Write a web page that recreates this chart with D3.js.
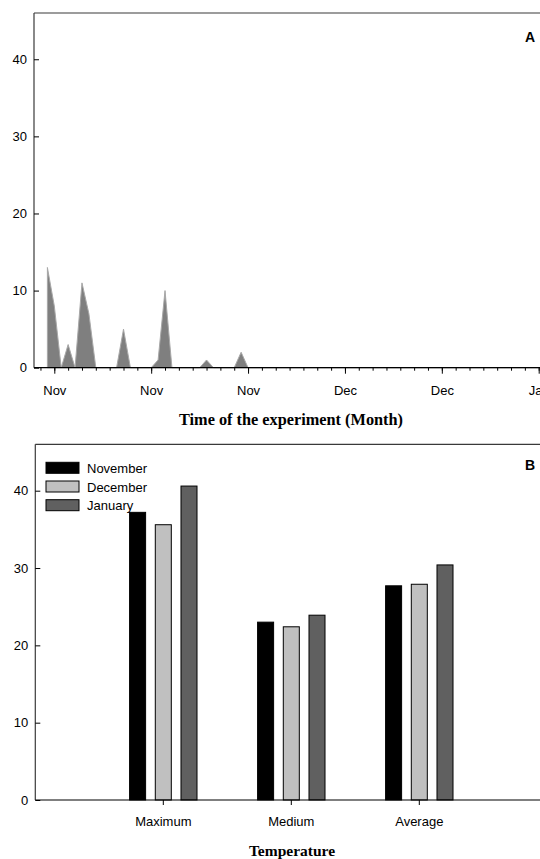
<!DOCTYPE html>
<html>
<head>
<meta charset="utf-8">
<script src="https://cdn.jsdelivr.net/npm/d3@7"></script>
<style>
  html, body { margin: 0; padding: 0; background: #fff; }
  svg { display: block; }
  text { font-family: "Liberation Sans", Arial, sans-serif; fill: #000; }
  .serif { font-family: "Liberation Serif", "Times New Roman", serif; font-weight: bold; }
</style>
</head>
<body>
<svg id="chart" width="540" height="859"></svg>
<script>
// ---------- Panel A data (daily values, day 0 = first "Nov" tick) ----------
const daysA = [-1,0,1,2,3,4,5,6,7,8,9,10,11,12,13,14,15,16,17,18,19,20,21,22,23,24,25,26,27,28,29,30,31,32,33,34,35,36,37,38,39,40,41,42,43,44,45,46,47,48,49,50,51,52,53,54,55,56,57,58,59,60,61,62,63,64,65,66,67,68,69,70];
const valuesA = [13,8,0,3,0,11,7,0,0,0,0,5,0,0,0,0,1,10,0,0,0,0,0,1,0,0,0,0,2,0,0,0,0,0,0,0,0,0,0,0,0,0,0,0,0,0,0,0,0,0,0,0,0,0,0,0,0,0,0,0,0,0,0,0,0,0,0,0,0,0,0,0];
const majorTickDaysA = [0,14,28,42,56,70];
const majorTickLabelsA = ["Nov","Nov","Nov","Dec","Dec","Jan"];
const minorTickDaysA = [-2,0,2,4,6,8,10,12,14,16,18,20,22,24,26,28,30,32,34,36,38,40,42,44,46,48,50,52,54,56,58,60,62,64,66,68,70,72];
const yTicks = [0,10,20,30,40];

// ---------- Panel B data ----------
const categoriesB = ["Maximum","Medium","Average"];
const seriesB = ["November","December","January"];
const novemberB = [37.2, 23.0, 27.7];
const decemberB = [35.6, 22.4, 27.9];
const januaryB  = [40.6, 23.9, 30.4];
const colorsB = ["#000000","#c0c0c0","#606060"];

const svg = d3.select("#chart");

// ================= Panel A =================
const A = { left: 34, top: 13, bottom: 367.7, right: 560 };
const xA = d3.scaleLinear().domain([0, 70]).range([54.3, 538.7]);
const yA = d3.scaleLinear().domain([0, 46]).range([A.bottom, A.top]);
const dataA = daysA.map((d, i) => ({ d, v: valuesA[i] }));

const gA = svg.append("g");
gA.append("path")
  .datum(dataA)
  .attr("fill", "#7f7f7f")
  .attr("stroke", "#a8a8a8")
  .attr("stroke-width", 1)
  .attr("d", d3.area().x(p => xA(p.d)).y0(yA(0)).y1(p => yA(p.v)));

// frame (top + left)
gA.append("line").attr("x1", A.left).attr("x2", A.right).attr("y1", A.top).attr("y2", A.top)
  .attr("stroke", "#3a3a3a").attr("stroke-width", 1.2);

// y axis
const yAxisA = gA.append("g").attr("transform", `translate(${A.left},0)`)
  .call(d3.axisLeft(yA).tickValues(yTicks).tickSizeInner(-5).tickSizeOuter(0).tickPadding(7));
yAxisA.select(".domain").attr("stroke", "#3a3a3a").attr("stroke-width", 1.2)
  .attr("d", `M0,${A.top}V${A.bottom}`);
yAxisA.selectAll("text").style("font-size", "13px").attr("font-family", null);

// x axis: minor ticks
const xAxisMinor = gA.append("g").attr("transform", `translate(0,${A.bottom})`)
  .call(d3.axisBottom(xA).tickValues(minorTickDaysA).tickSizeInner(3).tickSizeOuter(0).tickFormat(""));
xAxisMinor.select(".domain").attr("d", `M${A.left},0H${A.right}`).attr("stroke", "#000").attr("stroke-width", 1.2);
// major ticks
const xAxisMajor = gA.append("g").attr("transform", `translate(0,${A.bottom})`)
  .call(d3.axisBottom(xA).tickValues(majorTickDaysA).tickSizeInner(6).tickSizeOuter(0).tickPadding(12)
    .tickFormat((d, i) => majorTickLabelsA[i]));
xAxisMajor.select(".domain").remove();
xAxisMajor.selectAll("text").style("font-size", "13px").attr("font-family", null);

gA.append("text").attr("x", 530).attr("y", 41.5).attr("text-anchor", "middle")
  .style("font-size", "14px").style("font-weight", "bold").text("A");

gA.append("text").attr("class", "serif").attr("x", 291).attr("y", 425).attr("text-anchor", "middle")
  .style("font-size", "16.3px").text("Time of the experiment (Month)");

// ================= Panel B =================
const B = { left: 35.3, top: 444.3, bottom: 800, right: 560 };
const xB = d3.scaleBand().domain(categoriesB).range([99.3, 483.3]).padding(0);
const xInner = d3.scaleBand().domain(seriesB).range([-38.55, 38.55]).paddingInner(0.377).paddingOuter(0.1885);
const yB = d3.scaleLinear().domain([0, 46]).range([B.bottom, B.top]);
const valuesB = [novemberB, decemberB, januaryB];

const gB = svg.append("g");
gB.append("line").attr("x1", B.left).attr("x2", B.right).attr("y1", B.top).attr("y2", B.top)
  .attr("stroke", "#3a3a3a").attr("stroke-width", 1.2);

const barData = [];
categoriesB.forEach((c, ci) => {
  seriesB.forEach((s, si) => barData.push({ c, s, si, v: valuesB[si][ci] }));
});
gB.selectAll("rect.bar").data(barData).enter().append("rect")
  .attr("class", "bar")
  .attr("x", d => xB(d.c) + xB.bandwidth() / 2 + xInner(d.s))
  .attr("width", xInner.bandwidth())
  .attr("y", d => yB(d.v))
  .attr("height", d => yB(0) - yB(d.v))
  .attr("fill", d => colorsB[d.si])
  .attr("stroke", "#000").attr("stroke-width", 1);

const yAxisB = gB.append("g").attr("transform", `translate(${B.left},0)`)
  .call(d3.axisLeft(yB).tickValues(yTicks).tickSizeInner(-5).tickSizeOuter(0).tickPadding(7));
yAxisB.select(".domain").attr("stroke", "#3a3a3a").attr("stroke-width", 1.2)
  .attr("d", `M0,${B.top}V${B.bottom}`);
yAxisB.selectAll("text").style("font-size", "13px").attr("font-family", null);

const xAxisB = gB.append("g").attr("transform", `translate(0,${B.bottom})`)
  .call(d3.axisBottom(xB).tickSizeInner(5).tickSizeOuter(0).tickPadding(12));
xAxisB.select(".domain").attr("d", `M${B.left},0H${B.right}`).attr("stroke", "#000").attr("stroke-width", 1.2);
xAxisB.selectAll("text").style("font-size", "13px").attr("font-family", null);

// legend
const leg = gB.append("g");
seriesB.forEach((s, i) => {
  const y0 = 462.3 + i * 18.7;
  leg.append("rect").attr("x", 46).attr("y", y0).attr("width", 33).attr("height", 11)
    .attr("fill", colorsB[i]).attr("stroke", "#000").attr("stroke-width", 1);
  leg.append("text").attr("x", 87).attr("y", y0 + 10.5).style("font-size", "13px").text(s);
});

gB.append("text").attr("x", 530).attr("y", 469.5).attr("text-anchor", "middle")
  .style("font-size", "14px").style("font-weight", "bold").text("B");

gB.append("text").attr("class", "serif").attr("x", 292).attr("y", 856).attr("text-anchor", "middle")
  .style("font-size", "15.5px").text("Temperature");
</script>
</body>
</html>
